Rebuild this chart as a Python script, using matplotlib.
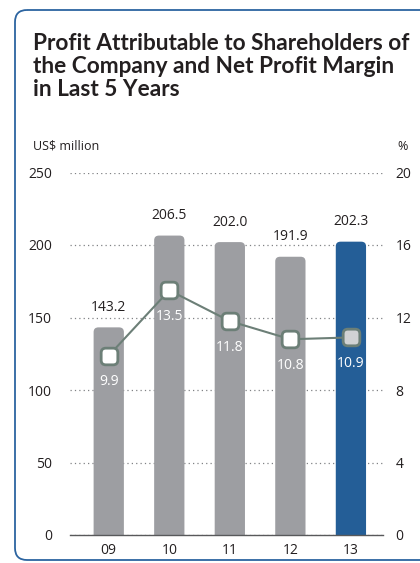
import matplotlib.pyplot as plt
from matplotlib.patches import FancyBboxPatch, BoxStyle
from matplotlib.markers import MarkerStyle

years = ['09', '10', '11', '12', '13']
profit = [143.2, 206.5, 202.0, 191.9, 202.3]
margin = [9.9, 13.5, 11.8, 10.8, 10.9]

bar_grey = '#9d9ea2'
bar_blue = '#245e97'
line_col = '#6c7f77'
text_col = '#231f20'

plt.rcParams['font.family'] = ['Open Sans', 'DejaVu Sans']

fig = plt.figure(figsize=(4.2, 5.63), dpi=100)

# card frame drawn in pixel coordinates
bg = fig.add_axes([0, 0, 1, 1])
bg.set_xlim(0, 420)
bg.set_ylim(563, 0)
bg.axis('off')
bg.add_patch(FancyBboxPatch((15, 10), 440, 550, boxstyle='round,pad=0,rounding_size=12',
                            fc='none', ec='#2c64a0', lw=1.3))
bg.text(33, 33, 'Profit Attributable to Shareholders of\nthe Company and Net Profit Margin\nin Last 5 Years',
        fontsize=16.3, fontweight='bold', color=text_col, va='top', ha='left', linespacing=1.12,
        family=['Lato', 'DejaVu Sans'])
bg.text(33, 146, 'US$ million', fontsize=9, color=text_col, va='center', ha='left')
bg.text(397, 146, '%', fontsize=9, color=text_col, va='center', ha='left')

ax = fig.add_axes([70 / 420, 28 / 563, 313 / 420, 362.5 / 563])
ax.set_xlim(-0.64, 4.53)
ax.set_ylim(0, 250)
ax.set_yticks(range(0, 251, 50))
ax.set_xticks(range(len(years)))
ax.set_xticklabels(years)
for s in ['top', 'left', 'right']:
    ax.spines[s].set_visible(False)
ax.spines['bottom'].set_color('#58595b')
ax.spines['bottom'].set_linewidth(1.0)
ax.spines['bottom'].set_zorder(5)
ax.tick_params(length=0, labelsize=10, colors=text_col)
ax.tick_params(axis='y', pad=13)
ax.tick_params(axis='x', pad=6)
ax.grid(axis='y', linestyle=(0, (1, 2.5)), color='#808285', lw=0.9)
ax.set_axisbelow(True)

# rounded-top bars
bw = 0.5
for i, v in enumerate(profit):
    col = bar_blue if i == len(profit) - 1 else bar_grey
    ax.add_patch(FancyBboxPatch((i - bw / 2, -20), bw, v + 20,
                                boxstyle='round,pad=0,rounding_size=0.08',
                                mutation_aspect=40, fc=col, ec='none', zorder=2))
    ax.annotate(f'{v:.1f}', (i, v), xytext=(0, 9), textcoords='offset points',
                ha='center', va='bottom', fontsize=10, color=text_col)

ax2 = ax.twinx()
ax2.set_ylim(0, 20)
ax2.set_yticks(range(0, 21, 4))
for s in ax2.spines.values():
    s.set_visible(False)
ax2.tick_params(length=0, labelsize=10, colors=text_col, pad=9)

ax2.plot(range(len(years)), margin, color=line_col, lw=1.5, zorder=3)

# rounded square marker
rsq = BoxStyle.Round(pad=0, rounding_size=0.28)(-0.5, -0.5, 1, 1, 1)
mk = MarkerStyle(rsq)
for i, m in enumerate(margin):
    fc = '#d1d2d4' if i == len(margin) - 1 else 'white'
    ax2.plot(i, m, marker=mk, ms=12, mfc=fc, mec=line_col, mew=2, zorder=4)
    ax2.annotate(f'{m:.1f}', (i, m), xytext=(0, -19), textcoords='offset points',
                 ha='center', va='center', fontsize=10, color='white', zorder=5)

fig.savefig('out.png', dpi=100)
